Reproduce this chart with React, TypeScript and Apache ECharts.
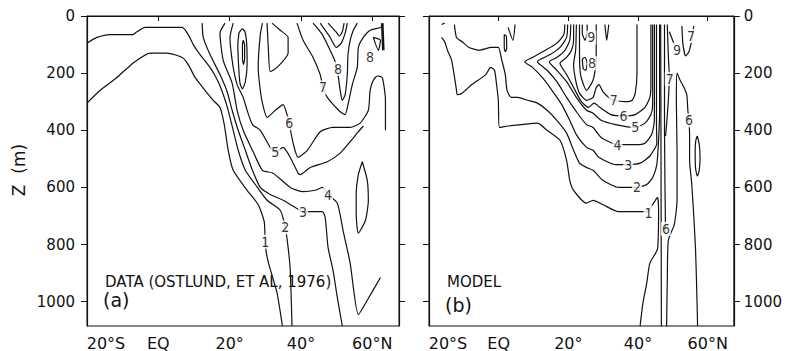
import React, { useEffect, useRef } from 'react';
import * as echarts from 'echarts';

type P = number[];

// axes
const latTicks = [-20, 0, 20, 40, 60];
const latTickLabels = ['20°S', 'EQ', '20°', '40°', '60°N'];
const depthTicks = [0, 200, 400, 600, 800, 1000];
const latMin = -20;
const latMax = 67.5;
const depthMax = 1085;

// ---- panel (a) DATA contours [lat, depth m]
const dataC1: P[] = [[-20,305],[-16.3,260],[-11.6,215],[-7.1,165],[-2.3,130],[2.5,130],[6.7,145],[8.4,170],[10.3,215],[13.1,260],[15.4,295],[17.3,320],[18.5,380],[19.6,470],[21.0,540],[24.9,610],[28.0,660],[29.7,720],[30.0,800],[30.8,860],[33.3,970],[34.8,1085]];
const dataC2: P[] = [[-20,95],[-17.2,75],[-13.5,65],[-7.1,65],[-6.0,55],[-3.7,40],[0.5,40],[6.7,40],[8.4,65],[9.8,100],[11.7,135],[14.5,180],[16.8,230],[18.5,285],[19.6,330],[21.0,400],[22.4,470],[24.4,540],[27.8,600],[30.5,645],[34.2,680],[35.6,740],[36.4,810],[37.0,890],[37.5,1085]];
const dataC3: P[] = [[12.3,25],[12.6,75],[14.5,135],[17.3,205],[19.3,265],[20.7,330],[22.4,400],[24.4,470],[26.4,540],[28.6,600],[31.4,625],[35.0,645],[38.4,670],[40.6,685],[46.0,685],[46.8,705],[47.6,810],[49.0,890],[50.2,985],[51.6,1085]];
const dataC4: P[] = [[18.7,25],[17.3,60],[18.2,155],[20.7,235],[22.1,330],[23.8,400],[26.4,470],[29.2,540],[32.2,550],[37.0,600],[40.6,615],[44.0,610],[46.0,600],[47.6,625],[50.2,655],[51.8,750],[53.8,865],[56.1,1045],[58.6,995],[62.3,915]];
const dataC5: P[] = [[21.0,25],[20.1,75],[21.0,180],[22.1,240],[23.8,285],[24.9,330],[26.4,380],[28.6,400],[31.4,460],[32.8,475],[35.0,460],[37.0,495],[39.2,550],[39.8,555],[42.6,530],[47.4,510],[51.0,480],[53.8,440],[56.1,405],[57.5,385]];
const dataC6: P[] = [[29.2,25],[28.6,65],[28.0,180],[28.6,260],[29.2,305],[30.5,355],[32.8,330],[35.0,310],[36.1,345],[36.7,375],[37.8,445],[39.2,495],[41.8,470],[45.4,405],[49.0,390],[53.8,390],[56.6,375],[58.9,330],[59.4,260],[60.3,225],[61.4,210],[62.8,215],[63.7,295],[63.7,400]];
const dataPocket: P[] = [[30.5,25],[30.8,100],[31.4,195],[33.3,180],[36.4,130],[36.4,75],[34.2,50],[31.9,25]];
const dataLoopOuter: P[] = [[22.6,60],[23.5,45],[24.3,55],[24.8,100],[24.9,170],[24.4,230],[23.6,255],[22.9,235],[22.5,170],[22.3,100],[22.6,60]];
const dataLoopInner: P[] = [[23.8,85],[24.2,100],[24.2,150],[23.9,170],[23.6,150],[23.6,100],[23.8,85]];
const dataC7: P[] = [[38.9,25],[40.6,85],[43.4,145],[45.4,205],[46.2,250],[47.4,285],[51.0,335],[52.4,345],[53.2,310],[54.4,240],[55.8,180],[56.1,110],[57.5,75],[59.4,50],[62.3,40],[63.1,30]];
const dataV8: P[] = [[43.4,25],[46.0,65],[48.2,120],[49.6,160],[50.4,205],[51.0,260],[51.6,295],[52.4,275],[53.0,205],[53.2,135],[53.8,85],[54.7,50],[55.8,25]];
const dataV9: P[] = [[45.4,25],[48.2,75],[49.9,110],[51.3,95],[52.4,60],[53.0,25]];
const dataV10: P[] = [[47.6,25],[49.8,55],[50.8,70],[51.6,55],[52.1,25]];
const dataEdgeBar: P[] = [[62.8,25],[63.1,120]];
const dataTriangle: P[] = [[60.3,75],[62.3,85],[61.7,120],[60.3,75]];
const dataEllipse: P[] = [[57.2,510],[58.6,575],[58.9,645],[58.1,715],[56.1,760],[55.5,695],[55.5,625],[56.1,555],[57.2,510]];
const dataLabels: (number | string)[][] = [[30.0,790,'1'],[35.6,740,'2'],[40.6,685,'3'],[47.6,625,'4'],[32.8,475,'5'],[36.7,375,'6'],[46.2,250,'7'],[50.4,185,'8'],[59.4,145,'8']];

// ---- panel (b) MODEL contours
const modelC1: P[] = [[-16.4,75],[-15.5,90],[-14.7,120],[-13.5,155],[-12.1,260],[-11.9,275],[-10.5,270],[-7.7,240],[-3.7,205],[-2.3,180],[-1.2,190],[-0.6,240],[-0.1,295],[0.2,390],[2.7,385],[6.4,380],[11.1,375],[13.9,400],[17.6,435],[19.5,505],[20.4,575],[21.5,610],[25.2,655],[27.1,645],[29.9,660],[34.4,685],[42.8,685],[44.2,660],[45.6,635],[45.9,680],[45.6,815],[43.4,865],[42.5,935],[41.4,1005],[40.6,1085]];
const modelC2: P[] = [[-12.7,30],[-12.1,75],[-10.5,90],[-8.5,110],[-5.7,120],[-2.0,110],[-0.1,110],[0.8,150],[1.9,205],[2.4,260],[3.6,285],[5.5,285],[8.3,295],[11.1,305],[13.9,330],[16.7,365],[19.5,410],[21.5,470],[23.2,515],[25.2,530],[27.1,540],[29.9,575],[34.4,600],[39.7,600],[42.5,590],[44.2,565],[45.4,520],[45.9,435],[46.2,330],[46.2,30]];
const modelC3: P[] = [[19.0,30],[18.7,65],[16.7,95],[13.4,120],[9.7,145],[7.5,160],[9.7,180],[12.5,215],[15.3,260],[18.1,310],[20.4,365],[22.3,415],[25.2,460],[27.1,470],[28.8,495],[33.6,520],[37.2,520],[40.6,515],[43.4,490],[45.4,445],[45.3,385],[45.3,295],[45.3,30]];
const modelC4: P[] = [[19.8,30],[19.5,75],[17.6,110],[14.8,135],[11.1,160],[13.9,190],[16.7,230],[19.5,285],[22.3,335],[25.2,380],[27.1,390],[29.4,425],[34.1,450],[39.2,450],[42.0,445],[43.9,415],[44.7,365],[44.7,30]];
const modelC5: P[] = [[20.7,30],[20.4,85],[19.0,120],[16.7,145],[14.5,160],[16.7,190],[19.5,230],[22.3,285],[25.2,330],[27.1,340],[29.4,365],[33.6,380],[39.2,390],[42.0,375],[43.7,345],[44.2,310],[44.2,30]];
const modelC6: P[] = [[21.5,30],[21.5,85],[20.9,120],[19.5,145],[17.6,165],[19.5,205],[21.5,250],[23.5,295],[25.7,320],[27.4,305],[29.1,320],[32.2,345],[35.8,350],[39.2,345],[42.0,320],[43.4,285],[43.7,240],[43.7,30]];
const modelC7: P[] = [[22.3,30],[22.1,120],[21.5,170],[22.1,225],[23.2,270],[25.2,295],[27.1,285],[28.0,250],[28.8,240],[29.9,265],[31.6,285],[33.0,295],[36.4,300],[38.3,295],[39.2,270],[39.7,200],[39.7,30]];
const modelC8: P[] = [[23.2,30],[23.2,120],[23.5,205],[25.2,260],[27.1,225],[28.0,155],[28.0,30]];
const modelLoop8: P[] = [[24.0,150],[24.8,145],[25.4,165],[25.0,190],[24.3,185],[24.0,150]];
const modelC9: P[] = [[24.0,30],[24.0,60],[24.8,85],[25.4,60],[25.4,30]];
const modelTopV1: P[] = [[30.5,30],[31.0,85],[31.6,30]];
const modelTopV2: P[] = [[2.7,40],[4.1,85],[4.7,30]];
const modelSmall: P[] = [[1.6,65],[2.2,70],[2.3,115],[1.9,125],[1.6,110],[1.6,65]];
const modelTick: P[] = [[-16.4,30],[-15.5,25]];
const modelFront1: P[] = [[46.5,30],[46.6,500],[46.7,1085]];
const modelFront2: P[] = [[47.6,30],[47.6,400],[47.9,760]];
const modelPeak6: P[] = [[48.2,1085],[48.4,925],[48.7,785],[50.4,730],[51.2,645],[51.2,470],[51.0,295],[51.2,200],[52.1,225],[53.2,250],[54.0,275],[54.3,330],[54.6,365],[54.8,415],[54.8,505],[55.4,585],[56.0,700],[56.5,815],[56.8,935],[57.1,1085]];
const modelEllipse: P[] = [[57.0,420],[57.6,450],[57.8,500],[57.5,545],[57.0,560],[56.5,530],[56.4,470],[56.6,435],[57.0,420]];
const modelSlash9: P[] = [[49.0,55],[50.4,100]];
const modelC7b: P[] = [[48.4,30],[48.7,140],[49.0,215],[48.7,295],[48.2,380],[47.9,420]];
const modelU7: P[] = [[52.6,35],[52.9,100],[53.7,140],[54.6,125],[55.4,85],[56.0,35]];
const modelLabels: (number | string)[][] = [[43.0,688,'1'],[39.7,600,'2'],[37.2,520,'3'],[34.1,450,'4'],[39.2,390,'5'],[35.8,350,'6'],[33.0,295,'7'],[26.8,165,'8'],[26.6,75,'9'],[51.2,118,'9'],[49.1,220,'7'],[55.2,70,'7'],[54.6,365,'6'],[48.0,745,'6']];

const dataLines = [dataC1, dataC2, dataC3, dataC4, dataC5, dataC6, dataPocket, dataLoopOuter, dataLoopInner, dataC7, dataV8, dataV9, dataV10, dataTriangle, dataEllipse];
const modelLines = [modelC1, modelC2, modelC3, modelC4, modelC5, modelC6, modelC7, modelC8, modelLoop8, modelC9, modelTopV1, modelTopV2, modelSmall, modelTick, modelFront1, modelFront2, modelPeak6, modelEllipse, modelSlash9, modelC7b, modelU7];

const FONT = '"DejaVu Sans", "Liberation Sans", sans-serif';
const INK = '#111111';

export default function App() {
  const ref = useRef<HTMLDivElement>(null);
  useEffect(() => {
    if (!ref.current) return;
    const chart = echarts.init(ref.current, undefined, { renderer: 'svg' });

    const lineSeries = (data: P[], gi: number, width = 1.2) => ({
      type: 'line',
      data,
      xAxisIndex: gi,
      yAxisIndex: gi * 2,
      symbol: 'none',
      showSymbol: false,
      smooth: 0.2,
      silent: true,
      clip: true,
      z: 2,
      lineStyle: { color: INK, width },
    });
    const labelSeries = (data: (number | string)[][], gi: number) => ({
      type: 'scatter',
      data,
      xAxisIndex: gi,
      yAxisIndex: gi * 2,
      symbolSize: 1,
      silent: true,
      z: 10,
      itemStyle: { color: 'rgba(255,255,255,0)' },
      label: {
        show: true,
        position: 'inside',
        formatter: (p: any) => String(p.value[2]),
        fontSize: 14,
        fontFamily: '"DejaVu Sans Condensed", "DejaVu Sans", sans-serif',
        color: '#000000',
        textBorderWidth: 0,
        backgroundColor: '#ffffff',
        padding: [0, 1],
      },
    });

    const xAxisFor = (gi: number) => ({
      type: 'value',
      gridIndex: gi,
      min: latMin,
      max: latMax,
      interval: 20,
      splitLine: { show: false },
      axisLine: { show: true, lineStyle: { color: INK, width: 1.2 } },
      axisTick: { show: true, length: 5, inside: false, customValues: latTicks, lineStyle: { color: INK } },
      axisLabel: {
        show: true,
        customValues: latTicks,
        margin: 9,
        fontSize: 16,
        fontFamily: FONT,
        color: INK,
        formatter: (v: number) => {
          const i = latTicks.indexOf(v);
          if (i < 0) return '';
          if (i === 0) return '{first|' + latTickLabels[i] + '}';
          return latTickLabels[i];
        },
        rich: { first: { fontSize: 16, fontFamily: FONT, color: INK, padding: [0, 0, 0, 38] } },
      },
    });
    const yAxisFor = (gi: number, position: string, labels: boolean, margin: number) => ({
      type: 'value',
      gridIndex: gi,
      position,
      inverse: true,
      min: 0,
      max: depthMax,
      interval: 200,
      splitLine: { show: false },
      axisLine: { show: true, onZero: false, lineStyle: { color: INK, width: 1.2 } },
      axisTick: { show: true, length: 6, inside: false, customValues: depthTicks, lineStyle: { color: INK } },
      axisLabel: {
        show: labels,
        customValues: depthTicks,
        margin,
        fontSize: 15,
        fontFamily: FONT,
        color: INK,
        formatter: (v: number) => (depthTicks.indexOf(v) >= 0 ? String(v) : ''),
      },
    });

    const series: any[] = [];
    dataLines.forEach((d) => series.push(lineSeries(d, 0)));
    series.push(lineSeries(dataEdgeBar, 0, 2.6));
    modelLines.forEach((d) => series.push(lineSeries(d, 1)));
    series.push(labelSeries(dataLabels, 0));
    series.push(labelSeries(modelLabels, 1));

    chart.setOption({
      animation: false,
      backgroundColor: '#fff',
      textStyle: { fontFamily: FONT },
      grid: [
        { left: 87, top: 16, width: 312, height: 311, show: true, borderColor: INK, borderWidth: 1, backgroundColor: 'transparent', containLabel: false },
        { left: 429, top: 16, width: 313, height: 311, show: true, borderColor: INK, borderWidth: 1, backgroundColor: 'transparent', containLabel: false },
      ],
      xAxis: [xAxisFor(0), xAxisFor(1)],
      yAxis: [
        yAxisFor(0, 'left', true, 12),
        yAxisFor(0, 'right', false, 8),
        yAxisFor(1, 'left', false, 8),
        yAxisFor(1, 'right', true, 10),
      ],
      series,
      graphic: [
        { type: 'text', x: 19, y: 170, rotation: Math.PI / 2, style: { text: 'Z  (m)', fontSize: 17, fontFamily: FONT, fill: INK, align: 'center', verticalAlign: 'middle' } },
        { type: 'text', x: 105, y: 282, style: { text: 'DATA (OSTLUND, ET AL, 1976)', fontSize: 15, fontFamily: FONT, fill: INK, align: 'left', verticalAlign: 'middle' } },
        { type: 'text', x: 103, y: 300, style: { text: '(a)', fontSize: 19, fontFamily: FONT, fill: INK, align: 'left', verticalAlign: 'middle' } },
        { type: 'text', x: 447, y: 282, style: { text: 'MODEL', fontSize: 15, fontFamily: FONT, fill: INK, align: 'left', verticalAlign: 'middle' } },
        { type: 'text', x: 445, y: 305, style: { text: '(b)', fontSize: 19, fontFamily: FONT, fill: INK, align: 'left', verticalAlign: 'middle' } },
      ],
    });
    return () => chart.dispose();
  }, []);
  return <div ref={ref} style={{ position: 'fixed', left: 0, top: 0, width: 785, height: 351, background: '#fff' }} />;
}
